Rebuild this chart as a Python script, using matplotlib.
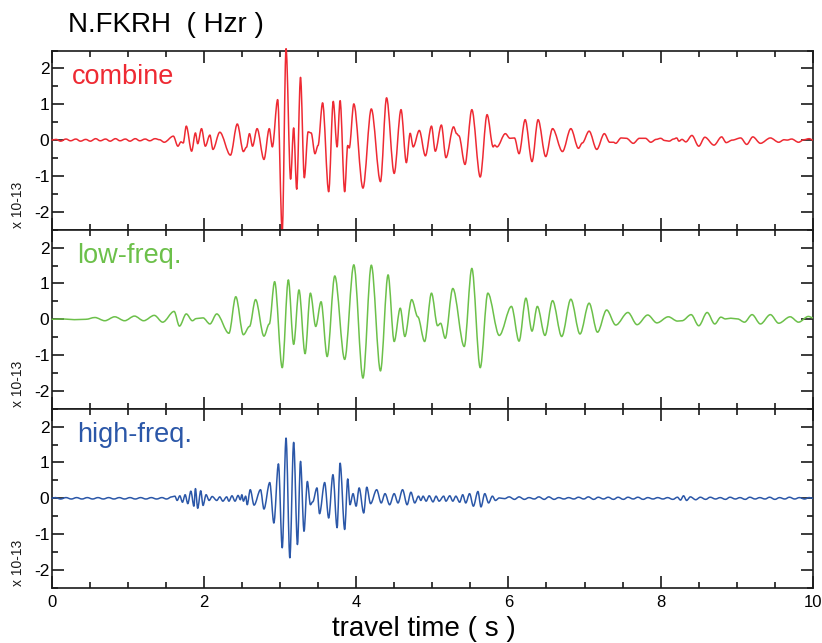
import matplotlib
matplotlib.use("Agg")
import matplotlib.pyplot as plt
from matplotlib.path import Path
from matplotlib.patches import PathPatch
from matplotlib.ticker import MultipleLocator

plt.rcParams['font.family'] = ['Liberation Sans', 'DejaVu Sans']

station = "N.FKRH  ( Hzr )"
x_label = "travel time ( s )"
amp_label = "x 10-13"
trace_names = ["combine", "low-freq.", "high-freq."]
trace_colors = ["#EE2A33", "#6CC04A", "#2B57A8"]
x_ticks = [0, 2, 4, 6, 8, 10]
y_ticks = [-2, -1, 0, 1, 2]

# Turning points (time in s, amplitude in 1e-13) of each trace
combine_t = [0.00, 0.06, 0.12, 0.19, 0.25, 0.32, 0.38, 0.45, 0.51, 0.58, 0.64, 0.71,
             0.77, 0.84, 0.90, 0.97, 1.03, 1.10, 1.16, 1.23, 1.29, 1.36, 1.42, 1.48,
             1.60, 1.66, 1.70, 1.73, 1.77, 1.84, 1.89, 1.92, 1.97, 2.02, 2.08, 2.12,
             2.21, 2.35, 2.44, 2.52, 2.56, 2.60, 2.64, 2.70, 2.79, 2.86, 2.90, 2.97,
             3.03, 3.08, 3.14, 3.18, 3.22, 3.27, 3.32, 3.37, 3.41, 3.46, 3.50, 3.56,
             3.64, 3.70, 3.75, 3.79, 3.85, 3.89, 3.91, 3.97, 4.09, 4.20, 4.32, 4.40,
             4.50, 4.59, 4.66, 4.71, 4.75, 4.83, 4.91, 4.99, 5.04, 5.12, 5.18, 5.28,
             5.32, 5.35, 5.43, 5.52, 5.63, 5.72, 5.80, 5.82, 5.85, 5.96, 6.02, 6.08,
             6.14, 6.22, 6.31, 6.39, 6.49, 6.58, 6.71, 6.82, 6.92, 6.97, 7.06, 7.16,
             7.26, 7.33, 7.38, 7.41, 7.48, 7.55, 7.64, 7.72, 7.80, 7.87, 7.94, 8.00,
             8.05, 8.11, 8.17, 8.21, 8.24, 8.28, 8.33, 8.41, 8.50, 8.58, 8.70, 8.80,
             8.86, 8.94, 9.05, 9.13, 9.21, 9.31, 9.44, 9.55, 9.62, 9.66, 9.72, 9.81,
             9.88, 9.95, 10.00]
combine_v = [0.00, 0.02, -0.03, 0.03, -0.02, 0.03, -0.03, 0.02, -0.03, 0.04, -0.02, 0.03,
             -0.03, 0.04, -0.02, 0.03, -0.03, 0.04, -0.02, 0.03, -0.02, 0.04, 0.01, -0.06,
             0.11, -0.17, -0.05, -0.08, 0.39, -0.31, 0.20, -0.10, 0.32, -0.17, 0.14, -0.26,
             0.22, -0.42, 0.45, -0.32, -0.20, 0.18, -0.17, 0.32, -0.54, 0.32, -0.19, 1.13,
             -2.55, 2.55, -1.09, 0.34, -1.37, 1.75, -1.05, 0.23, 0.20, -0.38, -0.15, 1.04,
             -1.44, 1.08, -0.19, 1.10, -1.44, -0.15, -0.22, 1.01, -1.34, 0.87, -1.16, 1.18,
             -0.93, 0.85, -0.63, 0.19, -0.19, 0.27, -0.44, 0.39, -0.31, 0.42, -0.49, 0.37,
             0.18, 0.12, -0.68, 0.85, -1.03, 0.71, -0.19, -0.14, -0.19, 0.18, 0.05, 0.06,
             -0.38, 0.57, -0.60, 0.57, -0.46, 0.32, -0.32, 0.32, -0.23, -0.08, 0.25, -0.26,
             0.18, -0.06, -0.06, -0.09, 0.06, 0.05, -0.09, 0.05, 0.05, -0.06, 0.02, 0.05,
             -0.01, -0.03, 0.03, 0.06, -0.03, 0.02, -0.05, 0.13, -0.17, 0.08, -0.14, 0.09,
             -0.07, 0.00, 0.06, -0.12, 0.09, -0.09, 0.06, -0.06, 0.01, 0.00, 0.03, -0.06,
             0.01, 0.04, 0.00]

low_t = [0.00, 0.15, 0.30, 0.45, 0.57, 0.70, 0.83, 0.96, 1.09, 1.21, 1.35, 1.46,
         1.61, 1.68, 1.77, 1.85, 1.90, 1.99, 2.08, 2.17, 2.33, 2.42, 2.52, 2.60,
         2.68, 2.79, 2.86, 2.93, 3.03, 3.11, 3.18, 3.25, 3.33, 3.40, 3.47, 3.54,
         3.62, 3.72, 3.85, 3.97, 4.09, 4.20, 4.32, 4.42, 4.50, 4.58, 4.64, 4.73,
         4.81, 4.90, 4.99, 5.07, 5.11, 5.17, 5.27, 5.42, 5.52, 5.63, 5.73, 5.88,
         6.04, 6.14, 6.23, 6.31, 6.38, 6.48, 6.58, 6.70, 6.82, 6.94, 7.06, 7.17,
         7.29, 7.41, 7.57, 7.69, 7.83, 7.95, 8.10, 8.22, 8.28, 8.40, 8.50, 8.61,
         8.71, 8.79, 8.85, 8.92, 9.01, 9.10, 9.20, 9.31, 9.44, 9.55, 9.70, 9.81,
         9.94, 10.00]
low_v = [0.00, 0.01, -0.01, 0.00, 0.05, -0.04, 0.07, -0.04, 0.09, -0.04, 0.11, -0.08,
         0.22, -0.19, 0.15, -0.04, 0.02, 0.04, -0.13, 0.15, -0.39, 0.63, -0.43, -0.20,
         0.55, -0.47, -0.13, 1.05, -1.35, 1.10, -0.70, 0.82, -0.96, 0.73, -0.20, 0.49,
         -1.04, 1.21, -1.12, 1.52, -1.64, 1.51, -1.44, 1.24, -0.62, 0.31, -0.48, 0.55,
         0.07, -0.62, 0.73, -0.18, -0.11, -0.53, 0.86, -0.76, 1.42, -1.35, 0.73, -0.45,
         0.36, -0.61, 0.59, -0.33, 0.36, -0.45, 0.52, -0.48, 0.56, -0.41, 0.45, -0.36,
         0.26, -0.16, 0.19, -0.15, 0.12, -0.10, 0.07, -0.05, -0.04, 0.13, -0.18, 0.19,
         -0.13, 0.06, 0.01, 0.03, 0.01, -0.08, 0.13, -0.13, 0.13, -0.11, 0.07, -0.08,
         0.08, 0.04]

high_t = [0.00, 0.05, 0.12, 0.19, 0.26, 0.33, 0.40, 0.47, 0.54, 0.61, 0.68, 0.75,
          0.82, 0.89, 0.96, 1.03, 1.10, 1.17, 1.24, 1.31, 1.38, 1.45, 1.51, 1.58,
          1.62, 1.65, 1.685, 1.72, 1.755, 1.79, 1.83, 1.87, 1.89, 1.92, 1.96, 1.99,
          2.03, 2.07, 2.11, 2.17, 2.21, 2.25, 2.30, 2.33, 2.37, 2.41, 2.45, 2.48,
          2.50, 2.52, 2.55, 2.57, 2.61, 2.66, 2.745, 2.79, 2.866, 2.92, 2.98, 3.03,
          3.08, 3.13, 3.18, 3.23, 3.27, 3.316, 3.36, 3.40, 3.43, 3.486, 3.52, 3.587,
          3.64, 3.696, 3.75, 3.79, 3.85, 3.89, 3.92, 3.96, 4.00, 4.04, 4.10, 4.14,
          4.19, 4.27, 4.33, 4.38, 4.44, 4.50, 4.55, 4.61, 4.67, 4.72, 4.77, 4.82,
          4.85, 4.88, 4.92, 4.96, 5.01, 5.05, 5.09, 5.15, 5.18, 5.23, 5.27, 5.31,
          5.36, 5.40, 5.44, 5.49, 5.54, 5.60, 5.64, 5.69, 5.74, 5.79, 5.83, 5.88,
          5.95, 6.01, 6.08, 6.14, 6.21, 6.27, 6.34, 6.40, 6.47, 6.53, 6.60, 6.66,
          6.73, 6.79, 6.86, 6.92, 6.99, 7.05, 7.12, 7.18, 7.25, 7.31, 7.38, 7.44,
          7.51, 7.57, 7.64, 7.70, 7.77, 7.83, 7.90, 7.96, 8.03, 8.09, 8.16, 8.22,
          8.26, 8.30, 8.34, 8.39, 8.46, 8.52, 8.59, 8.65, 8.72, 8.78, 8.85, 8.91,
          8.98, 9.04, 9.11, 9.17, 9.24, 9.30, 9.37, 9.43, 9.50, 9.56, 9.63, 9.69,
          9.76, 9.82, 9.89, 9.95, 10.00]
high_v = [0.00, 0.02, -0.02, 0.02, -0.02, 0.02, -0.02, 0.02, -0.02, 0.02, -0.02, 0.02,
          -0.02, 0.02, -0.02, 0.02, -0.02, 0.02, -0.02, 0.02, -0.02, 0.02, -0.02, 0.04,
          0.06, -0.06, 0.07, -0.11, 0.10, -0.15, 0.20, -0.22, 0.27, -0.28, 0.21, -0.20,
          0.10, -0.06, 0.05, -0.06, 0.04, -0.08, 0.04, -0.08, 0.07, -0.08, 0.08, -0.04,
          0.10, -0.08, 0.06, -0.18, 0.24, -0.19, 0.24, -0.30, 0.44, -0.69, 0.96, -1.38,
          1.68, -1.66, 1.56, -1.29, 1.03, -0.92, 0.47, -0.18, -0.10, 0.29, -0.43, 0.44,
          -0.55, 0.66, -0.82, 0.98, -0.87, 0.54, -0.18, 0.13, -0.22, 0.29, -0.41, 0.31,
          -0.15, 0.24, -0.13, 0.13, -0.18, 0.13, -0.13, 0.24, -0.18, 0.17, -0.13, 0.06,
          -0.06, 0.06, -0.08, 0.07, -0.10, 0.06, -0.08, 0.06, -0.08, 0.07, -0.08, 0.06,
          -0.11, 0.10, -0.13, 0.13, -0.22, 0.19, -0.24, 0.13, -0.13, 0.06, -0.06, 0.01,
          -0.01, 0.04, -0.03, 0.04, -0.03, 0.02, -0.02, 0.04, -0.03, 0.04, -0.03, 0.02,
          -0.02, 0.02, -0.02, 0.03, -0.02, 0.04, -0.03, 0.03, -0.02, 0.03, -0.03, 0.03,
          -0.03, 0.03, -0.02, 0.03, -0.03, 0.02, -0.02, 0.02, -0.02, 0.02, -0.03, 0.03,
          -0.05, 0.07, -0.06, 0.04, -0.04, 0.03, -0.03, 0.03, -0.02, 0.02, -0.03, 0.03,
          -0.02, 0.02, -0.03, 0.03, -0.02, 0.02, -0.02, 0.03, -0.03, 0.02, -0.02, 0.03,
          -0.02, 0.02, -0.02, 0.02, 0.00]

traces = [(combine_t, combine_v), (low_t, low_v), (high_t, high_v)]


def wave_path(t, v):
    """Smooth path through turning points, flat tangent at each of them."""
    verts = [(t[0], v[0])]
    codes = [Path.MOVETO]
    for i in range(len(t) - 1):
        dt = t[i + 1] - t[i]
        verts += [(t[i] + dt / 3, v[i]), (t[i + 1] - dt / 3, v[i + 1]), (t[i + 1], v[i + 1])]
        codes += [Path.CURVE4] * 3
    return Path(verts, codes)


W, H = 822, 643
fig = plt.figure(figsize=(W / 100, H / 100), dpi=100)

left, right = 51.5 / W, 813 / W
panel_tops = [50.5, 229.7, 408.7]
panel_h = 179.2

tick_font = ['Liberation Sans Narrow', 'Liberation Sans', 'DejaVu Sans']

for k, (name, color, (t, v)) in enumerate(zip(trace_names, trace_colors, traces)):
    bottom = 1 - (panel_tops[k] + panel_h) / H
    ax = fig.add_axes([left, bottom, right - left, panel_h / H])
    ax.set_xlim(0, 10)
    ax.set_ylim(-2.5, 2.5)
    ax.add_patch(PathPatch(wave_path(t, v), fill=False, edgecolor=color,
                           lw=1.1, transform=ax.transData, clip_on=False,
                           joinstyle='round', zorder=3))
    ax.set_xticks(x_ticks)
    ax.xaxis.set_minor_locator(MultipleLocator(0.5))
    ax.set_yticks(y_ticks)
    ax.yaxis.set_minor_locator(MultipleLocator(0.5))
    ax.tick_params(which='both', direction='in', top=True, right=True,
                   width=1.2, color='#1a1a1a')
    ax.tick_params(which='major', length=8.5)
    ax.tick_params(which='minor', length=4.3)
    ax.tick_params(axis='y', pad=1.5, labelsize=12.5)
    ax.tick_params(axis='x', pad=5, labelsize=12)
    ax.set_yticklabels([str(y) for y in y_ticks])
    if k < 2:
        ax.set_xticklabels([])
    else:
        ax.set_xticklabels([str(x) for x in x_ticks])
    for lab in ax.get_yticklabels() + ax.get_xticklabels():
        lab.set_family(tick_font)
    for s in ax.spines.values():
        s.set_linewidth(1.2)
        s.set_color('#1a1a1a')
    ax.text(0.027 + (0.007 if k else 0), 0.815, name, transform=ax.transAxes,
            color=color, fontsize=19.5, va='baseline', ha='left')
    fig.text(18 / W, bottom + 0.003, amp_label, rotation=90, ha='center',
             va='bottom', fontsize=10, family=tick_font, color='#1a1a1a')

fig.text(68 / W, 1 - 32 / H, station, fontsize=20, va='baseline', ha='left')
fig.text(0.516, 1 - 636 / H, x_label, fontsize=20, va='baseline', ha='center')

fig.savefig("out.png", dpi=100)
